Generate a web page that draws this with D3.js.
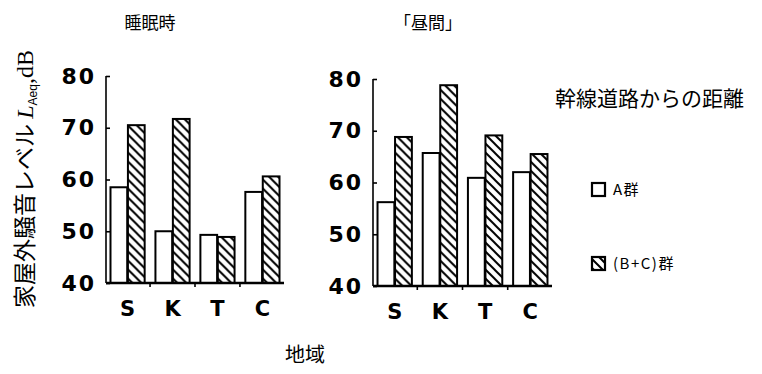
<!DOCTYPE html>
<html>
<head>
<meta charset="utf-8">
<script src="https://cdn.jsdelivr.net/npm/d3@7"></script>
<style>
  html, body { margin: 0; padding: 0; background: #fff; }
  svg { display: block; }
</style>
</head>
<body>
<svg id="chart" width="762" height="374"></svg>
<script>
// Regions (地域) and the two distance groups
const regions = ["S", "K", "T", "C"];
const groups = ["A群", "(B+C)群"];
const yTicks = [40, 50, 60, 70, 80];

// L_Aeq (dB) while sleeping
const sleepA  = [58.5, 50.0, 49.3, 57.6];
const sleepBC = [70.5, 71.7, 48.9, 60.6];
// L_Aeq (dB) during the daytime
const dayA  = [56.2, 65.7, 60.9, 62.0];
const dayBC = [68.8, 78.8, 69.1, 65.5];

const svg = d3.select("#chart");
const CJK = "'Noto Sans CJK JP', 'Noto Sans', sans-serif";
const BOLD = "'DejaVu Sans', 'Liberation Sans', sans-serif";

// Diagonal hatching used for the (B+C) group
const defs = svg.append("defs");
const pat = defs.append("pattern")
  .attr("id", "hatch")
  .attr("patternUnits", "userSpaceOnUse")
  .attr("width", 9).attr("height", 9);
pat.append("rect").attr("width", 9).attr("height", 9).attr("fill", "#fff");
pat.append("path")
  .attr("d", "M-2,-2 L11,11 M-2,7 L2,11 M7,-2 L11,2")
  .attr("stroke", "#000").attr("stroke-width", 2);

function panel(title, titleX, xRange, yRange, valsA, valsBC) {
  const g = svg.append("g");
  const x0 = d3.scaleBand().domain(regions).range(xRange)
    .paddingInner(0.24).paddingOuter(0.1);
  const x1 = d3.scaleBand().domain(groups).range([0, x0.bandwidth()]).paddingInner(0.04);
  const y = d3.scaleLinear().domain([40, 80]).range(yRange);

  const rows = regions.map((r, i) => ({ r, vals: [valsA[i], valsBC[i]] }));

  // bars
  const grp = g.selectAll("g.region").data(rows).join("g")
    .attr("transform", d => `translate(${x0(d.r)},0)`);
  grp.selectAll("rect").data(d => d.vals.map((v, k) => ({ v, k }))).join("rect")
    .attr("x", d => x1(groups[d.k]))
    .attr("width", x1.bandwidth())
    .attr("y", d => y(d.v))
    .attr("height", d => y(40) - y(d.v))
    .attr("fill", d => d.k === 0 ? "#fff" : "url(#hatch)")
    .attr("stroke", "#000").attr("stroke-width", 2);

  // y axis
  const yAxis = d3.axisLeft(y).tickValues(yTicks).tickSize(-4).tickPadding(10);
  const ya = g.append("g").attr("transform", `translate(${xRange[0]},0)`).call(yAxis);
  ya.select(".domain").attr("stroke-width", 1.6).attr("d", `M0,${y(80)}V${y(40)}`);
  ya.selectAll(".tick line").attr("stroke-width", 1.6);
  ya.selectAll(".tick text")
    .attr("font-family", BOLD).attr("font-weight", "bold")
    .attr("font-size", 22).attr("letter-spacing", 2).attr("fill", "#000");

  // x axis
  const xAxis = d3.axisBottom(x0).tickSize(0).tickPadding(18);
  const xa = g.append("g").attr("transform", `translate(0,${y(40)})`).call(xAxis);
  xa.select(".domain").attr("stroke-width", 2.4)
    .attr("d", `M${xRange[0]},0H${xRange[1]}`);
  xa.selectAll(".tick text")
    .attr("font-family", BOLD).attr("font-weight", "bold")
    .attr("font-size", 21).attr("fill", "#000");
  // small separators between regions
  xa.selectAll("line.sep").data(regions.slice(1)).join("line")
    .attr("class", "sep")
    .attr("x1", d => x0(d) - x0.step() * 0.12).attr("x2", d => x0(d) - x0.step() * 0.12)
    .attr("y1", 0).attr("y2", 4)
    .attr("stroke", "#000").attr("stroke-width", 1.6);

  svg.append("text").attr("x", titleX).attr("y", 29)
    .attr("text-anchor", "middle")
    .attr("font-family", CJK).attr("font-size", 17)
    .text(title);
}

panel("睡眠時", 150, [106, 284], [283, 76], sleepA, sleepBC);
panel("「昼間」", 428, [373, 552], [286, 79], dayA, dayBC);

// y-axis label
const yl = svg.append("text")
  .attr("transform", "translate(33,179) rotate(-90)")
  .attr("text-anchor", "middle")
  .attr("font-family", CJK).attr("font-size", 23);
yl.append("tspan").text("家屋外騒音レベル ");
yl.append("tspan").attr("font-family", "'Liberation Serif', serif")
  .attr("font-style", "italic").attr("font-size", 24).text("L");
yl.append("tspan").attr("font-family", "'Liberation Sans', sans-serif")
  .attr("font-size", 12).attr("dy", 4).text("Aeq");
yl.append("tspan").attr("font-family", "'Liberation Serif', serif")
  .attr("font-size", 24).attr("dy", -4).text(",dB");

// x-axis label
svg.append("text").attr("x", 305).attr("y", 362)
  .attr("text-anchor", "middle")
  .attr("font-family", CJK).attr("font-size", 20)
  .text("地域");

// legend
svg.append("text").attr("x", 555).attr("y", 106)
  .attr("font-family", CJK).attr("font-size", 21)
  .text("幹線道路からの距離");
const leg = svg.append("g");
const legY = [183, 257];
leg.selectAll("rect").data(groups).join("rect")
  .attr("x", 592).attr("y", (d, i) => legY[i])
  .attr("width", 13).attr("height", 13)
  .attr("fill", (d, i) => i === 0 ? "#fff" : "url(#hatch)")
  .attr("stroke", "#000").attr("stroke-width", 2.2);
leg.selectAll("text").data(groups).join("text")
  .attr("x", 613).attr("y", (d, i) => legY[i] + 12)
  .attr("font-family", CJK).attr("font-size", 15).attr("letter-spacing", 1.5)
  .text(d => d);
</script>
</body>
</html>
